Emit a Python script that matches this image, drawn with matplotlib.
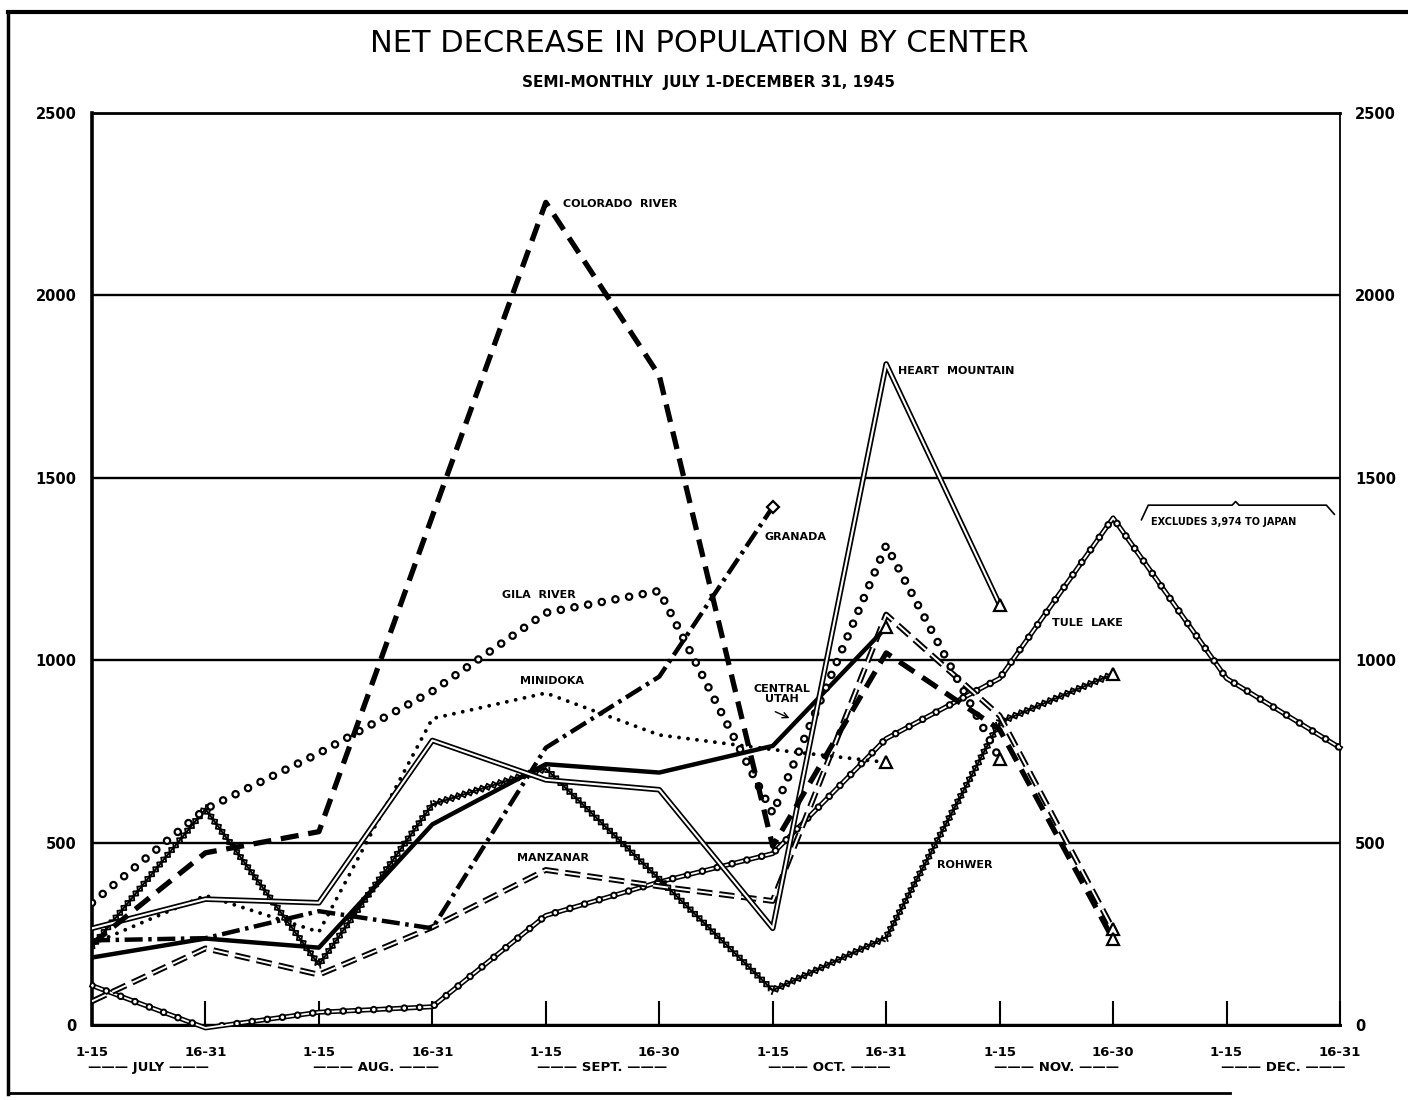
import numpy as np
import matplotlib
matplotlib.use("Agg")
import matplotlib.pyplot as plt
import matplotlib.patheffects as pe
from matplotlib.lines import Line2D
from matplotlib.transforms import blended_transform_factory

plt.rcParams['lines.scale_dashes'] = False
plt.rcParams['font.family'] = ['DejaVu Sans Condensed', 'DejaVu Sans']

# semi-monthly periods, July 1 - Dec 31 1945
periods = ['1-15', '16-31', '1-15', '16-31', '1-15', '16-30',
           '1-15', '16-31', '1-15', '16-30', '1-15', '16-31']
months = ['JULY', 'AUG.', 'SEPT.', 'OCT.', 'NOV.', 'DEC.']

# net decrease per center (series end where the line ends)
colorado_river = [222, 472, 530, 1395, 2255, 1780, 490, 1020, 810, 235]
heart_mountain = [265, 345, 335, 780, 672, 645, 265, 1812, 1152]
granada = [232, 238, 312, 265, 760, 955, 1420]
gila_river = [335, 592, 745, 915, 1130, 1190, 580, 1315, 730]
minidoka = [222, 355, 255, 840, 910, 795, 755, 720]
central_utah = [185, 237, 212, 550, 715, 692, 765, 1090]
manzanar = [65, 210, 138, 268, 425, 380, 340, 1125, 848, 262]
rohwer = [215, 592, 165, 605, 703, 400, 95, 240, 830, 962]
tule_lake = [108, -8, 35, 50, 300, 392, 470, 785, 950, 1390, 950, 760]

x = np.arange(len(periods))

fig = plt.figure(figsize=(14.08, 11), dpi=100)
ax = fig.add_axes([92 / 1408, 1 - 1025 / 1100, (1340 - 92) / 1408, (1025 - 113) / 1100])
ax.set_xlim(0, 11)
ax.set_ylim(0, 2500)

# axes, grid
ax.set_yticks(range(0, 2501, 500))
ax.yaxis.grid(True, color='black', lw=1.7, zorder=1)
ax.tick_params(axis='y', length=0, labelleft=True, labelright=True, pad=11)
for lab in ax.get_yticklabels():
    lab.set_family('DejaVu Sans')
    lab.set_fontweight('bold')
    lab.set_fontsize(10.5)
ax.set_xticks(x)
ax.set_xticklabels(periods, fontsize=9.5, fontweight='bold')
ax.tick_params(axis='x', direction='in', length=17, width=1.5, pad=15)
ax.spines['left'].set_linewidth(2.6)
ax.spines['right'].set_linewidth(1.3)
ax.spines['top'].set_linewidth(2)
ax.spines['bottom'].set_linewidth(2.2)

trans = blended_transform_factory(ax.transData, ax.transAxes)
for i, m in enumerate(months):
    ax.text(2 * i + 0.5, -0.047, '——— ' + m + ' ———', transform=trans,
            ha='center', va='center', fontsize=9.5, fontweight='bold')


def seg(vals):
    return x[:len(vals)], vals


def rings(xs, ys, size, gap, z):
    ax.plot(xs, ys, color='black', lw=size, ls=(0, (0.01, gap)),
            dash_capstyle='round', zorder=z)
    ax.plot(xs, ys, color='white', lw=size * 0.48, ls=(0, (0.01, gap)),
            dash_capstyle='round', zorder=z + 0.05)


def end_mark(xs, ys, marker='^', ms=9, z=6):
    ax.plot(xs[-1], ys[-1], marker=marker, ms=ms, mfc='white', mec='black',
            mew=1.6, ls='none', zorder=z, clip_on=False)


# Tule Lake: double line with open circles
xs, ys = seg(tule_lake)
ax.plot(xs, ys, color='black', lw=3.6, zorder=3, clip_on=False)
ax.plot(xs, ys, color='white', lw=1.3, zorder=3.05, clip_on=False)
rings(xs, ys, 5.5, 11, 3.1)

# Rohwer: line of crosses
xs, ys = seg(rohwer)
ticks = [pe.TickedStroke(spacing=4.5, angle=a, length=0.65, linewidth=1.3)
         for a in (45, -135, 135, -45)]
ax.plot(xs, ys, color='black', lw=1.4, zorder=3.2,
        path_effects=ticks + [pe.Normal()])
end_mark(xs, ys)

# Manzanar: double dashed line
xs, ys = seg(manzanar)
ax.plot(xs, ys, color='black', lw=4.2, ls=(0, (11, 5)), zorder=3.3)
ax.plot(xs, ys, color='white', lw=1.4, ls=(0, (11, 5)), zorder=3.35)
end_mark(xs, ys)

# Central Utah: heavy solid
xs, ys = seg(central_utah)
ax.plot(xs, ys, color='black', lw=3.2, zorder=3.4)
end_mark(xs, ys)

# Minidoka: dots
xs, ys = seg(minidoka)
ax.plot(xs, ys, color='black', lw=2.8, ls=(0, (0.01, 6.5)),
        dash_capstyle='round', zorder=3.5)
end_mark(xs, ys)

# Gila River: open circles
xs, ys = seg(gila_river)
rings(xs, ys, 6.2, 10, 3.6)
end_mark(xs, ys)

# Granada: dash-dot
xs, ys = seg(granada)
ax.plot(xs, ys, color='black', lw=3.2, ls=(0, (13, 4, 2.5, 4)), zorder=3.7)
end_mark(xs, ys, marker='D', ms=6.5)

# Heart Mountain: double line
xs, ys = seg(heart_mountain)
ax.plot(xs, ys, color='black', lw=4, zorder=3.8)
ax.plot(xs, ys, color='white', lw=1.5, zorder=3.85)
end_mark(xs, ys)

# Colorado River: heavy dashes
xs, ys = seg(colorado_river)
ax.plot(xs, ys, color='black', lw=3.8, ls=(0, (13, 7)), zorder=3.9)
end_mark(xs, ys)

# inline labels
lab = dict(fontsize=8, fontweight='bold', family='DejaVu Sans', zorder=7)
ax.text(4.15, 2250, 'COLORADO  RIVER', va='center', **lab)
ax.text(7.10, 1793, 'HEART  MOUNTAIN', va='center', **lab)
ax.text(5.93, 1338, 'GRANADA', va='center', **lab)
ax.text(3.61, 1179, 'GILA  RIVER', va='center', **lab)
ax.text(3.77, 943, 'MINIDOKA', va='center', **lab)
ax.text(6.08, 906, 'CENTRAL\nUTAH', ha='center', va='center', linespacing=1.0, **lab)
ax.annotate('', xy=(6.17, 838), xytext=(6.0, 862),
            arrowprops=dict(arrowstyle='->', lw=1, color='black'))
ax.text(3.75, 458, 'MANZANAR', va='center', **lab)
ax.text(8.46, 1102, 'TULE  LAKE', va='center', **lab)
ax.text(7.45, 439, 'ROHWER', va='center', **lab)
ax.text(9.33, 1380, 'EXCLUDES 3,974 TO JAPAN', va='center',
        fontsize=7, fontweight='bold', family='DejaVu Sans', zorder=7)
# brace over the note
ax.plot([9.25, 9.31, 10.05, 10.08, 10.11, 10.88, 10.95],
        [1385, 1425, 1425, 1435, 1425, 1425, 1400],
        color='black', lw=1.2, zorder=7)

# title
fig.text(0.497, 1 - 44 / 1100, 'NET DECREASE IN POPULATION BY CENTER',
         ha='center', va='center', fontsize=22)
fig.text(0.503, 1 - 82 / 1100, 'SEMI-MONTHLY  JULY 1-DECEMBER 31, 1945',
         ha='center', va='center', fontsize=11, fontweight='bold')

# outer frame
fig.add_artist(Line2D([8 / 1408, 1], [1 - 12 / 1100, 1 - 12 / 1100], color='black', lw=3))
fig.add_artist(Line2D([8 / 1408, 8 / 1408], [1 - 12 / 1100, 1 - 1094 / 1100], color='black', lw=2.5))
fig.add_artist(Line2D([8 / 1408, 1230 / 1408], [1 - 1093 / 1100, 1 - 1093 / 1100], color='black', lw=2))

fig.savefig('out.png', dpi=100)
